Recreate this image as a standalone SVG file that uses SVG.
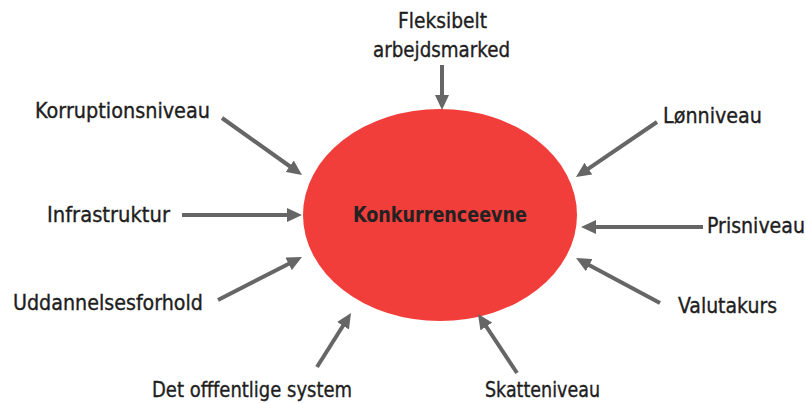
<svg xmlns="http://www.w3.org/2000/svg" width="806" height="403" viewBox="0 0 806 403">
<defs>
<marker id="ah" viewBox="0 0 15 14" markerWidth="15" markerHeight="14" refX="3" refY="7" orient="auto" markerUnits="userSpaceOnUse">
<path d="M0,0 L15,7 L0,14 z" fill="#666666"/>
</marker>
<style>
.lbl{font-family:"DejaVu Sans Condensed","Liberation Sans",sans-serif;font-size:21.5px;fill:#1e1e1e;stroke:#1e1e1e;stroke-width:0.35px;}
.ttl{font-family:"DejaVu Sans Condensed","Liberation Sans",sans-serif;font-size:20.5px;font-weight:bold;fill:#222222;}
.arr{stroke:#666666;stroke-width:4;fill:none;marker-end:url(#ah);}
</style>
</defs>
<rect width="806" height="403" fill="#ffffff"/>
<g id="center">
<ellipse cx="440" cy="215" rx="137" ry="106" fill="#f23e3a"/>
<text class="ttl" x="353" y="222" textLength="174" lengthAdjust="spacingAndGlyphs">Konkurrenceevne</text>
</g>
<g id="fleksibelt">
<text class="lbl" x="398" y="28" textLength="89" lengthAdjust="spacingAndGlyphs">Fleksibelt</text>
<text class="lbl" x="373" y="57" textLength="137" lengthAdjust="spacingAndGlyphs">arbejdsmarked</text>
</g>
<g id="korruption"><text class="lbl" x="35" y="118" textLength="175" lengthAdjust="spacingAndGlyphs">Korruptionsniveau</text></g>
<g id="infrastruktur"><text class="lbl" x="47" y="222" textLength="123" lengthAdjust="spacingAndGlyphs">Infrastruktur</text></g>
<g id="uddannelse"><text class="lbl" x="13" y="310" textLength="190" lengthAdjust="spacingAndGlyphs">Uddannelsesforhold</text></g>
<g id="lonniveau"><text class="lbl" x="663" y="123" textLength="99" lengthAdjust="spacingAndGlyphs">Lønniveau</text></g>
<g id="prisniveau"><text class="lbl" x="707" y="233" textLength="98" lengthAdjust="spacingAndGlyphs">Prisniveau</text></g>
<g id="valutakurs"><text class="lbl" x="678" y="313" textLength="99" lengthAdjust="spacingAndGlyphs">Valutakurs</text></g>
<g id="offentlige"><text class="lbl" x="152" y="397" textLength="200" lengthAdjust="spacingAndGlyphs">Det offfentlige system</text></g>
<g id="skatteniveau"><text class="lbl" x="485" y="397" textLength="115" lengthAdjust="spacingAndGlyphs">Skatteniveau</text></g>
<g id="connectors">
<line class="arr" x1="442" y1="65" x2="442" y2="98"/>
<line class="arr" x1="222" y1="118" x2="292.2" y2="168"/>
<line class="arr" x1="182" y1="215" x2="290" y2="215"/>
<line class="arr" x1="218" y1="300" x2="291.3" y2="262.5"/>
<line class="arr" x1="657" y1="122" x2="585.9" y2="170.3"/>
<line class="arr" x1="703" y1="227" x2="593" y2="227"/>
<line class="arr" x1="660" y1="303" x2="586.6" y2="263.7"/>
<line class="arr" x1="317" y1="367" x2="344.6" y2="323.2"/>
<line class="arr" x1="517" y1="373" x2="484.6" y2="324"/>
</g>
</svg>
